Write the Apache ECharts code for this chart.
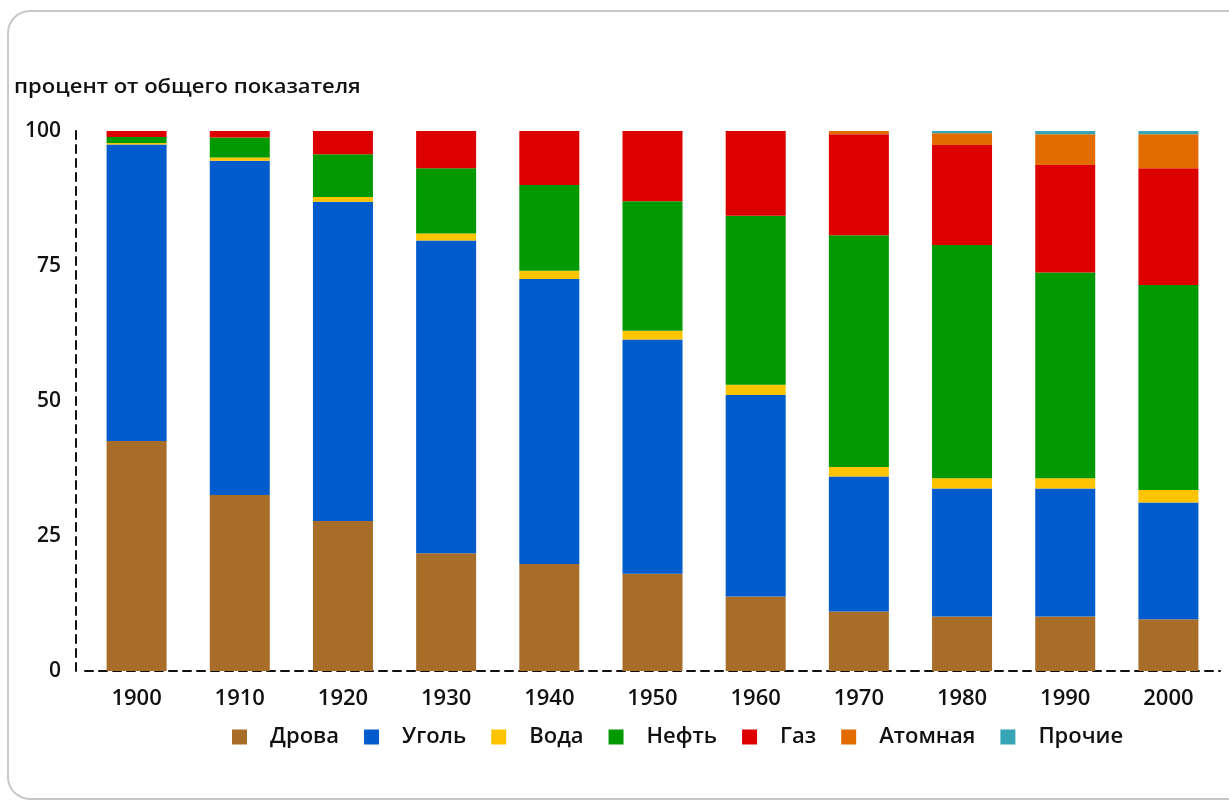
<!DOCTYPE html>
<html>
<head>
    <meta charset="UTF-8">
    <title>Структура потребления энергии</title>
    <script src="https://cdn.jsdelivr.net/npm/echarts@6/dist/echarts.min.js"></script>
    <style>
        html, body { margin: 0; padding: 0; background: #fff; }
        #chart { width: 1229px; height: 805px; }
    </style>
</head>
<body>
    <div id="chart"></div>
    <script>
        // годы
        const years = ['1900', '1910', '1920', '1930', '1940', '1950', '1960', '1970', '1980', '1990', '2000'];
        // доли источников, % от общего показателя
        const wood    = [42.6, 32.6, 27.8, 21.8, 19.8, 18.0, 13.8, 11.0, 10.1, 10.1, 9.6];
        const coal    = [54.9, 61.9, 59.1, 57.9, 52.8, 43.4, 37.3, 25.0, 23.7, 23.7, 21.6];
        const water   = [0.3, 0.6, 0.9, 1.3, 1.5, 1.6, 1.9, 1.8, 1.9, 1.9, 2.3];
        const oil     = [1.1, 3.7, 7.9, 12.1, 15.9, 24.0, 31.3, 42.9, 43.2, 38.1, 38.0];
        const gas     = [1.1, 1.2, 4.3, 6.9, 10.0, 13.0, 15.7, 18.7, 18.5, 19.9, 21.6];
        const nuclear = [0, 0, 0, 0, 0, 0, 0, 0.6, 2.2, 5.7, 6.3];
        const other   = [0, 0, 0, 0, 0, 0, 0, 0, 0.4, 0.6, 0.6];

        const names = ['Дрова', 'Уголь', 'Вода', 'Нефть', 'Газ', 'Атомная', 'Прочие'];
        const colors = ['#A86D29', '#005BCC', '#FFC400', '#009900', '#DD0000', '#E36C00', '#37A5B5'];
        const values = [wood, coal, water, oil, gas, nuclear, other];

        const font = '"Open Sans", "Liberation Sans", sans-serif';

        const chart = echarts.init(document.getElementById('chart'));
        chart.setOption({
            animation: false,
            color: colors,
            textStyle: { fontFamily: font },
            graphic: [
                {
                    type: 'rect',
                    shape: { x: 8, y: 11, width: 1260, height: 788, r: 22 },
                    style: { fill: 'none', stroke: '#c8c8c8', lineWidth: 2 },
                    z: -10
                },
                {
                    // подпись оси в оригинале растянута по горизонтали
                    type: 'text',
                    x: 14,
                    y: 78,
                    scaleX: 1.16,
                    style: {
                        text: 'процент от общего показателя',
                        fontFamily: font,
                        fontSize: 19,
                        fontWeight: 600,
                        fill: '#111'
                    }
                }
            ],
            legend: {
                data: names,
                left: 227,
                top: 721,
                icon: 'rect',
                itemWidth: 15,
                itemHeight: 15,
                itemGap: 25,
                textStyle: {
                    fontFamily: font,
                    fontSize: 22,
                    fontWeight: 600,
                    color: '#111',
                    padding: [0, 0, 0, 18]
                }
            },
            grid: { left: 85, right: 9, top: 131, bottom: 134 },
            xAxis: {
                type: 'category',
                data: years,
                axisTick: { show: false },
                axisLine: { lineStyle: { color: '#111', width: 2, type: [8, 6] } },
                axisLabel: { margin: 17, fontSize: 22, fontWeight: 600, color: '#111', fontFamily: font }
            },
            yAxis: {
                type: 'value',
                min: 0,
                max: 100,
                interval: 25,
                offset: 9,
                splitLine: { show: false },
                axisTick: { show: false },
                axisLine: { show: true, lineStyle: { color: '#111', width: 2, type: [8, 6] } },
                axisLabel: { margin: 15, fontSize: 21, fontWeight: 600, color: '#111', fontFamily: font }
            },
            series: names.map((name, i) => ({
                name: name,
                type: 'bar',
                stack: 'total',
                barWidth: 60,
                data: values[i]
            }))
        });
    </script>
</body>
</html>
